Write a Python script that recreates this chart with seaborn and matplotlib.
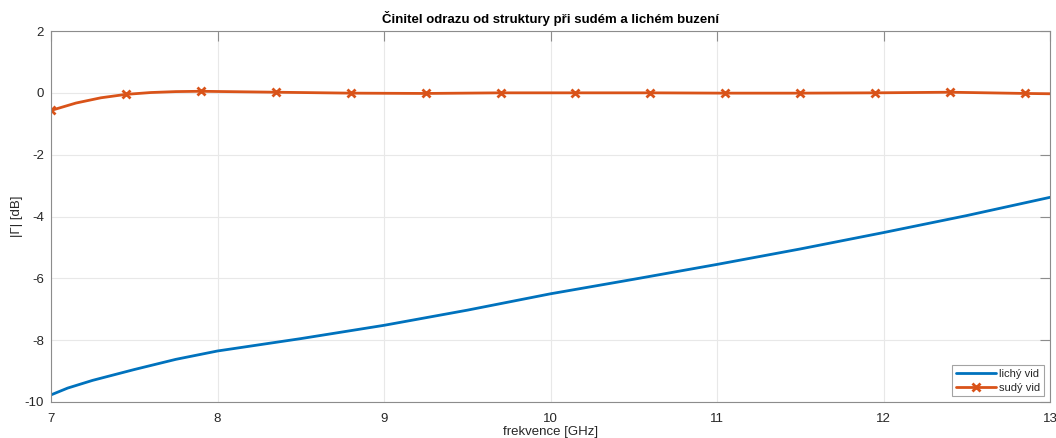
import numpy as np
import pandas as pd
import matplotlib
matplotlib.use('Agg')
import matplotlib.pyplot as plt
import seaborn as sns

# Data
freq_odd = [7.0, 7.1, 7.25, 7.5, 7.75, 8.0, 8.5, 9.0, 9.5, 10.0, 10.5, 11.0, 11.5, 12.0, 12.5, 13.0]
gamma_odd = [-9.77, -9.55, -9.3, -8.95, -8.62, -8.35, -7.95, -7.52, -7.03, -6.5, -6.03, -5.55, -5.05, -4.52, -3.97, -3.38]

freq_even = [7.0, 7.15, 7.3, 7.45, 7.6, 7.75, 7.9, 8.35, 8.8, 9.25, 9.7, 10.15, 10.6,
             11.05, 11.5, 11.95, 12.4, 12.85, 13.0]
gamma_even = [-0.57, -0.33, -0.16, -0.05, 0.01, 0.04, 0.05, 0.02, -0.01, -0.02, 0.0, 0.0, 0.0,
              -0.01, -0.01, 0.0, 0.02, -0.02, -0.03]
marker_idx = [0, 3, 6, 7, 8, 9, 10, 11, 12, 13, 14, 15, 16, 17]

x_ticks = [7, 8, 9, 10, 11, 12, 13]
y_ticks = [-10, -8, -6, -4, -2, 0, 2]

sns.set_style("white")
plt.rcParams['font.family'] = ['Liberation Sans', 'DejaVu Sans']
plt.rcParams['axes.unicode_minus'] = False

df_odd = pd.DataFrame({'f': freq_odd, 'g': gamma_odd})

fig = plt.figure(figsize=(10.56, 4.38), dpi=100)
ax = fig.add_axes([51 / 1056, 36 / 438, 999 / 1056, 371 / 438])

sns.lineplot(data=df_odd, x='f', y='g', ax=ax, color='#0072BD', linewidth=2, label='lichý vid')
ax.plot(freq_even, gamma_even, color='#D95319', linewidth=2, linestyle='-',
        marker='x', markersize=5.5, markeredgewidth=2, markevery=marker_idx,
        label='sudý vid')

ax.set_xlim(7, 13)
ax.set_ylim(-10, 2)
ax.set_xticks(x_ticks)
ax.set_yticks(y_ticks)
ax.grid(True, color='#e8e8e8', linewidth=0.8)
ax.set_axisbelow(True)

for s in ax.spines.values():
    s.set_color('#8c8c8c')
    s.set_linewidth(0.8)
ax.tick_params(direction='in', length=7, width=0.8, color='#8c8c8c',
               labelcolor='#262626', labelsize=9.5, top=True, right=True, pad=5)
ax.tick_params(axis='x', pad=8)

ax.set_title('Činitel odrazu od struktury při sudém a lichém buzení',
             fontsize=9.5, fontweight='bold', color='black', pad=6)
ax.set_xlabel('frekvence [GHz]', fontsize=9.5, color='#262626', labelpad=1)
ax.set_ylabel('|Γ| [dB]', fontsize=9.5, color='#262626', labelpad=1)

leg = ax.legend(loc='lower right', fontsize=8, frameon=True, fancybox=False,
                borderaxespad=0.5, handlelength=3.6, handletextpad=0.3,
                labelspacing=0.3, borderpad=0.35)
leg.get_frame().set_edgecolor('#8c8c8c')
leg.get_frame().set_linewidth(0.8)

fig.savefig('out.png', dpi=100)
